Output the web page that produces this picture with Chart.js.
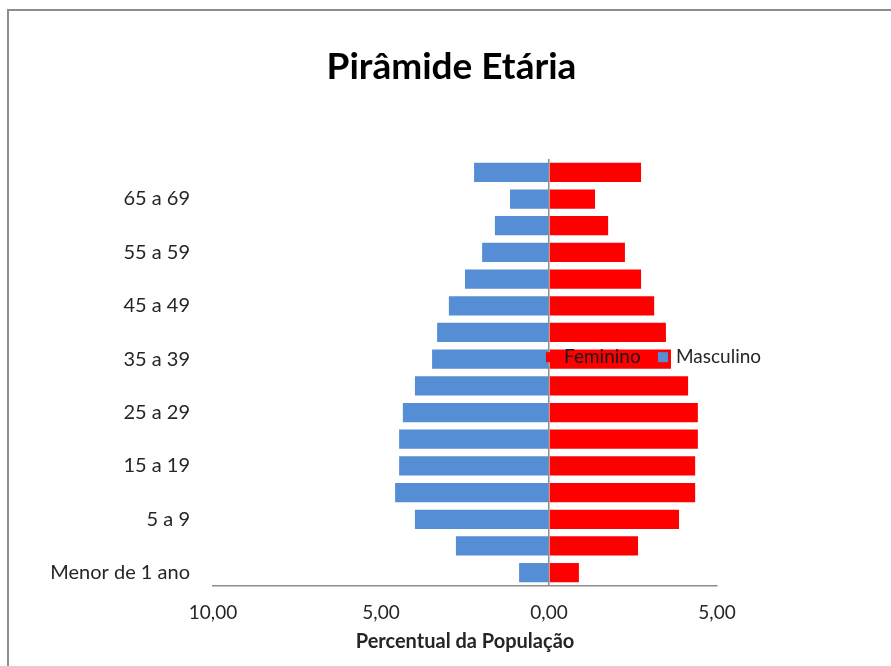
<!DOCTYPE html>
<html>
<head>
<meta charset="utf-8">
<script src="https://cdn.jsdelivr.net/npm/chart.js@4"></script>
<style>
  html, body { margin: 0; padding: 0; background: #fff; overflow: hidden; }
  #frame { position: absolute; left: 7px; top: 9px; width: 900px; height: 700px; border: 2px solid #8c8c8c; box-sizing: border-box; }
  #wrap { position: absolute; left: 0; top: 0; width: 891px; height: 666px; }
</style>
</head>
<body>
<div id="frame"></div>
<div id="wrap"><canvas id="c" width="891" height="666"></canvas></div>
<script>
const categories = ["Menor de 1 ano", "1 a 4", "5 a 9", "10 a 14", "15 a 19", "20 a 24", "25 a 29", "30 a 34", "35 a 39", "40 a 44", "45 a 49", "50 a 54", "55 a 59", "60 a 64", "65 a 69", "70 e mais"];
const masculino = [0.89, 2.77, 3.99, 4.58, 4.46, 4.46, 4.35, 3.99, 3.48, 3.33, 2.98, 2.50, 1.99, 1.61, 1.16, 2.23];
const feminino = [0.89, 2.65, 3.87, 4.35, 4.35, 4.43, 4.43, 4.14, 3.63, 3.48, 3.13, 2.74, 2.26, 1.76, 1.37, 2.74];
const xTicks = [-10, -5, 0, 5];
const titleText = "Pirâmide Etária";
const xTitle = "Percentual da População";
const legendAnchor = "35 a 39";

const FONT = "Lato, 'Open Sans', sans-serif";
const TXT = "#262626";
const BLUE = "#558ED5";
const RED = "#FF0000";

const titlePlugin = {
  id: 'freeTitle',
  afterDraw(chart) {
    const ctx = chart.ctx;
    ctx.save();
    ctx.font = "bold 37px " + FONT;
    ctx.fillStyle = "#000";
    ctx.textAlign = 'center';
    ctx.textBaseline = 'middle';
    ctx.fillText(titleText, chart.width / 2 + 6, 67);
    ctx.restore();
  }
};

const legendPlugin = {
  id: 'insideLegend',
  afterDatasetsDraw(chart) {
    const ctx = chart.ctx;
    const xs = chart.scales.x, ys = chart.scales.y;
    const y = ys.getPixelForValue(categories.indexOf(legendAnchor)) - 2;
    const x0 = xs.getPixelForValue(0);
    ctx.save();
    ctx.font = "19px " + FONT;
    ctx.textBaseline = 'middle';
    ctx.textAlign = 'left';
    ctx.fillStyle = RED;
    ctx.fillRect(x0 - 3, y - 5, 10, 10);
    ctx.fillStyle = "#1a1a1a";
    ctx.fillText("Feminino", x0 + 15, y);
    const x1 = x0 + 109;
    ctx.fillStyle = BLUE;
    ctx.fillRect(x1, y - 5, 10, 10);
    ctx.fillStyle = TXT;
    ctx.fillText("Masculino", x1 + 18, y);
    ctx.restore();
  }
};

new Chart(document.getElementById('c'), {
  type: 'bar',
  data: {
    labels: categories,
    datasets: [
      { label: 'Masculino', data: masculino.map(v => -v), backgroundColor: BLUE, borderWidth: 0, barPercentage: 0.72, categoryPercentage: 1 },
      { label: 'Feminino', data: feminino, backgroundColor: RED, borderWidth: 0, barPercentage: 0.72, categoryPercentage: 1 }
    ]
  },
  options: {
    indexAxis: 'y',
    responsive: false,
    animation: false,
    layout: { padding: { left: 10, right: 174, top: 159, bottom: 12 } },
    plugins: {
      legend: { display: false },
      tooltip: { enabled: false },
      title: { display: false }
    },
    scales: {
      x: {
        stacked: true,
        min: -10,
        max: 5,
        afterBuildTicks(scale) { scale.ticks = xTicks.map(v => ({ value: v })); },
        afterFit(scale) { scale.height = 68; },
        ticks: {
          color: TXT,
          font: { family: FONT, size: 19 },
          padding: 15,
          maxRotation: 0,
          callback: v => Math.abs(v).toFixed(2).replace('.', ',')
        },
        grid: {
          drawTicks: false,
          color: c => (c.tick && c.tick.value === 0) ? '#8c8c8c' : 'rgba(0,0,0,0)',
          lineWidth: 1.5
        },
        border: { display: true, color: '#8c8c8c', width: 1.5 },
        title: {
          display: true,
          text: xTitle,
          color: TXT,
          font: { family: FONT, size: 20, weight: 'bold', lineHeight: 1.2 },
          padding: { top: 0, bottom: 0 }
        }
      },
      y: {
        stacked: true,
        reverse: true,
        afterFit(scale) { scale.width = 203; },
        ticks: {
          autoSkip: false,
          color: TXT,
          font: { family: FONT, size: 20 },
          padding: 23,
          callback: function(v, i) { return i % 2 === 0 ? this.getLabelForValue(v) : ''; }
        },
        grid: { display: false, drawTicks: false },
        border: { display: false }
      }
    }
  },
  plugins: [legendPlugin, titlePlugin]
});
</script>
</body>
</html>
